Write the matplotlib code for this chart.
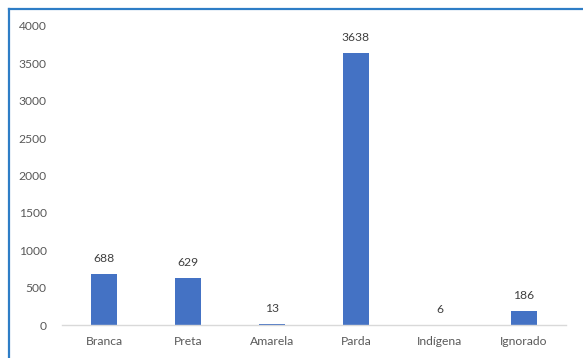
import matplotlib
matplotlib.use("Agg")
import matplotlib.pyplot as plt
from matplotlib.lines import Line2D

categories = ["Branca", "Preta", "Amarela", "Parda", "Indígena", "Ignorado"]
values = [688, 629, 13, 3638, 6, 186]
yticks = [0, 500, 1000, 1500, 2000, 2500, 3000, 3500, 4000]

plt.rcParams['font.family'] = ['Lato', 'DejaVu Sans']

W, H = 583, 358
fig = plt.figure(figsize=(W / 100, H / 100), dpi=100)
ax = fig.add_axes([62 / W, 1 - 325 / H, (566 - 62) / W, (325 - 26) / H])

x = list(range(len(categories)))
bars = ax.bar(x, values, width=0.31, color="#4472C4")
for xi, v in zip(x, values):
    ax.annotate(str(v), (xi, v), xytext=(0, 7), textcoords="offset points",
                ha="center", va="bottom", fontsize=8.7, color="#404040")

ax.set_xlim(-0.5, len(categories) - 0.5)
ax.set_ylim(0, 4000)
ax.set_yticks(yticks)
ax.set_yticklabels([str(t) for t in yticks])
ax.set_xticks(x)
ax.set_xticklabels(categories)
ax.tick_params(axis="both", length=0, labelsize=8.7, colors="#595959")
ax.tick_params(axis="y", pad=11)
ax.tick_params(axis="x", pad=8)
for s in ["top", "right", "left"]:
    ax.spines[s].set_visible(False)
ax.spines["bottom"].set_color("#D9D9D9")
ax.spines["bottom"].set_linewidth(1)

# outer blue frame (top and left)
fig.add_artist(Line2D([8.5 / W, 1.0], [1 - 8.5 / H, 1 - 8.5 / H], transform=fig.transFigure,
                      color="#2E7DC6", linewidth=1.6))
fig.add_artist(Line2D([8.5 / W, 8.5 / W], [0, 1 - 8.5 / H], transform=fig.transFigure,
                      color="#2E7DC6", linewidth=1.6))

fig.savefig("out.png", dpi=100)
